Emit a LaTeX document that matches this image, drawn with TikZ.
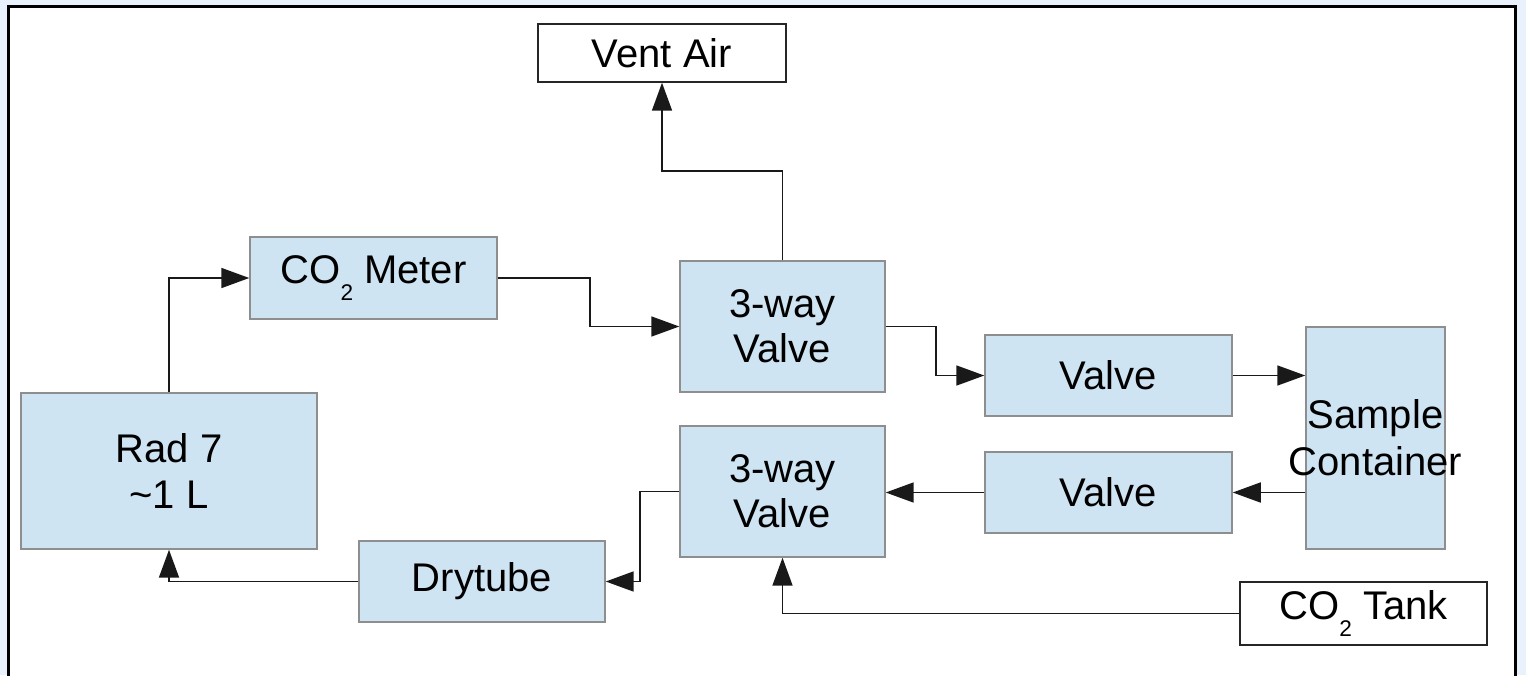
\documentclass[tikz,border=0pt]{standalone}
\usepackage{fontspec}
\setmainfont{Liberation Sans}
\usetikzlibrary{arrows.meta}
\definecolor{boxfill}{HTML}{CFE4F3}
\definecolor{boxline}{HTML}{8E8E8E}
\definecolor{outerbg}{HTML}{E8F1FC}
\newcommand\subtwo{\raisebox{-12.5pt}[0pt]{\fontsize{17}{17}\selectfont 2}}
\begin{document}
\begin{tikzpicture}[x=0.75pt,y=-0.75pt,
  sz/.style 2 args={minimum width=#1*0.75pt, minimum height=#2*0.75pt},
  blk/.style={draw=boxline, fill=boxfill, line width=1.1pt, inner sep=0pt,
    font=\fontsize{30}{34}\selectfont, align=center},
  wht/.style={draw=black!85, fill=white, line width=1.1pt, inner sep=0pt,
    font=\fontsize{30}{34}\selectfont, align=center},
  lbl/.style={font=\fontsize{30}{35}\selectfont, align=center, inner sep=0pt},
  conn/.style={line width=1.3pt, draw=black!90, -{Triangle[length=21pt,width=15pt]}}]
\useasboundingbox (0,0) rectangle (1526,675);
\clip (0,0) rectangle (1526,675);
\fill[outerbg] (0,0) rectangle (1526,675);
\draw[line width=2.25pt, fill=white] (8.5,6.5) rectangle (1515.5,700);

\node[wht, sz={248}{58}] (vent) at (662,53) {Vent Air};
\node[blk, sz={247}{82}] (meter) at (373.5,278) {CO\subtwo{} Meter};
\node[blk, sz={205}{131}] (tv1) at (782.5,326.5) {3-way\\Valve};
\node[blk, sz={247}{81}] (v1) at (1108.5,375.5) {Valve};
\node[blk, sz={139}{222}] (sc) at (1375.5,438) {};
\node[lbl] (sctext) at (sc.center) {Sample\\Container};
\node[blk, sz={247}{81}] (v2) at (1108.5,492.5) {Valve};
\node[blk, sz={205}{131}] (tv2) at (782.5,491.5) {3-way\\Valve};
\node[blk, sz={296}{156}] (rad) at (169,471) {Rad 7\\\textasciitilde1 L};
\node[blk, sz={246}{81}] (dry) at (482,581.5) {Drytube};
\node[wht, sz={247}{63}] (tank) at (1363.5,613.5) {CO\subtwo{} Tank};

\draw[conn] (rad.north) |- (meter.west);
\draw[conn] (meter.east) -- ++(92,0) |- (tv1.west);
\draw[conn] (tv1.north) -- ++(0,-89) -| (vent.south);
\draw[conn] (tv1.east) -- ++(50,0) |- (v1.west);
\draw[conn] (v1.east) -- (v1.east -| sc.west);
\draw[conn] (sc.west |- v2.east) -- (v2.east);
\draw[conn] (v2.west) -- (v2.west -| tv2.east);
\draw[conn] (tv2.west) -- ++(-39,0) |- (dry.east);
\draw[conn] (dry.west) -| (rad.south);
\draw[conn] (tank.west) -| (tv2.south);
\end{tikzpicture}
\end{document}
